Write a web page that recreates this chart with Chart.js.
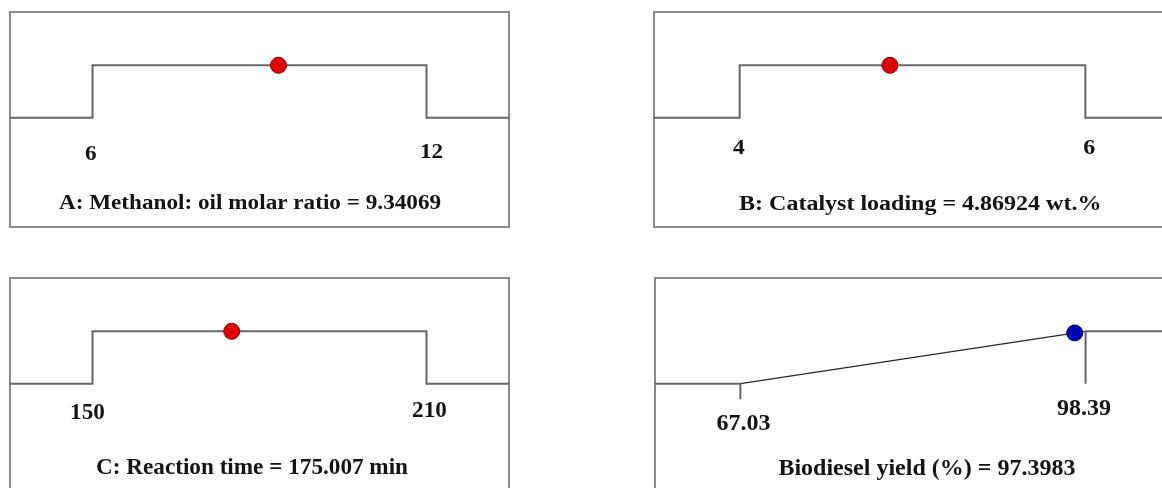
<!DOCTYPE html>
<html>
<head>
<meta charset="utf-8">
<script src="https://cdn.jsdelivr.net/npm/chart.js@4.4.1/dist/chart.umd.min.js"></script>
<style>
  html, body { margin: 0; padding: 0; background: #ffffff; overflow: hidden; }
  #stage { position: relative; width: 1162px; height: 488px; overflow: hidden; background: #ffffff; }
  #stage canvas { position: absolute; }
</style>
</head>
<body>
<div id="stage">
  <canvas id="pA"></canvas>
  <canvas id="pB"></canvas>
  <canvas id="pC"></canvas>
  <canvas id="pD"></canvas>
</div>
<script>
// Numerical optimisation ramps: factor ranges, optimum settings and predicted yield
const panelTitles = [
  'A: Methanol: oil molar ratio = 9.34069',
  'B: Catalyst loading = 4.86924 wt.%',
  'C: Reaction time = 175.007 min',
  'Biodiesel yield (%) = 97.3983'
];
const lowLimits = [6, 4, 150, 67.03];
const highLimits = [12, 6, 210, 98.39];
const lowLabels = ['6', '4', '150', '67.03'];
const highLabels = ['12', '6', '210', '98.39'];
const optimumValues = [9.34069, 4.86924, 175.007, 97.3983];
const desirabilityAtOptimum = [1, 1, 1, 0.9684];
const isResponse = [false, false, false, true];

// Placement and styling of each ramp panel (box position/size and limit-to-limit span in px)
const panelLayout = [
  { id: 'pA', left: 10,  top: 12,  width: 499, height: 215, rampSpan: 334,   textScaleX: 0.966, textScaleY: 0.84,
    lowDx: -1.6, lowY: -0.712, highDx: 5,    highY: -0.674, titleFx: 0.481, titleY: -1.647, dot: '#e00000', dotEdge: '#8b0000' },
  { id: 'pB', left: 654, top: 12,  width: 517, height: 215, rampSpan: 345.7, textScaleX: 1.0,   textScaleY: 0.84,
    lowDx: -1,   lowY: -0.592, highDx: 4,    highY: -0.592, titleFx: 0.515, titleY: -1.660, dot: '#e00000', dotEdge: '#8b0000' },
  { id: 'pC', left: 10,  top: 278, width: 499, height: 215, rampSpan: 334,   textScaleX: 0.966, textScaleY: 1.0,
    lowDx: -5,   lowY: -0.559, highDx: 3,    highY: -0.508, titleFx: 0.485, titleY: -1.609, dot: '#e00000', dotEdge: '#8b0000' },
  { id: 'pD', left: 655, top: 278, width: 516, height: 215, rampSpan: 345.2, textScaleX: 1.0,   textScaleY: 1.0,
    lowDx: 3,    lowY: -0.763, highDx: -1.7, highY: -0.477, titleFx: 0.527, titleY: -1.622, dot: '#0000b4', dotEdge: '#00005a' }
];
const Y_MAX = 2.017, Y_MIN = -2.086;
const LOW_TICK_END = -0.298;  // foot of the lower-limit tick on the response ramp
const PAD = 1;

const boxPlugin = {
  id: 'box',
  beforeDatasetsDraw(chart) {
    const a = chart.chartArea, ctx = chart.ctx;
    ctx.save();
    ctx.strokeStyle = '#8a8a8a';
    ctx.lineWidth = 2;
    ctx.strokeRect(a.left, a.top, a.right - a.left, a.bottom - a.top);
    ctx.restore();
  }
};

const textPlugin = {
  id: 'rampText',
  afterDatasetsDraw(chart, args, opts) {
    const ctx = chart.ctx, xs = chart.scales.x, ys = chart.scales.y, a = chart.chartArea;
    const put = (txt, px, py) => {
      ctx.save();
      ctx.translate(px, py);
      ctx.scale(opts.scaleX, opts.scaleY);
      ctx.fillText(txt, 0, 0);
      ctx.restore();
    };
    ctx.save();
    ctx.fillStyle = '#141414';
    ctx.font = 'bold 24px "Liberation Serif", "Times New Roman", serif';
    ctx.textAlign = 'center';
    ctx.textBaseline = 'middle';
    put(opts.lowText, xs.getPixelForValue(opts.low) + opts.lowDx, ys.getPixelForValue(opts.lowY));
    put(opts.highText, xs.getPixelForValue(opts.high) + opts.highDx, ys.getPixelForValue(opts.highY));
    put(opts.title, a.left + (a.right - a.left) * opts.titleFx, ys.getPixelForValue(opts.titleY));
    ctx.restore();
  }
};

panelLayout.forEach((L, i) => {
  const canvas = document.getElementById(L.id);
  canvas.width = L.width + 2 * PAD;
  canvas.height = L.height + 2 * PAD;
  canvas.style.left = (L.left - PAD) + 'px';
  canvas.style.top = (L.top - PAD) + 'px';

  const lo = lowLimits[i], hi = highLimits[i];
  const span = hi - lo;
  // limits sit at a fixed inset from the box edges
  const margin = (L.width / L.rampSpan - 1) / 2;
  const xMin = lo - margin * span, xMax = hi + margin * span;

  const datasets = [{
    label: 'optimum',
    data: [{ x: optimumValues[i], y: desirabilityAtOptimum[i] }],
    showLine: false,
    pointRadius: 8,
    pointHoverRadius: 8,
    pointBackgroundColor: L.dot,
    pointBorderColor: L.dotEdge,
    pointBorderWidth: 1,
    order: 0
  }];

  if (!isResponse[i]) {
    datasets.push({
      label: 'range',
      data: [{ x: xMin, y: 0 }, { x: lo, y: 0 }, { x: lo, y: 1 }, { x: hi, y: 1 }, { x: hi, y: 0 }, { x: xMax, y: 0 }],
      showLine: true, pointRadius: 0, pointHoverRadius: 0, borderColor: '#676767', borderWidth: 2, order: 1
    });
  } else {
    datasets.push({
      label: 'ramp',
      data: [{ x: xMin, y: 0 }, { x: lo, y: 0 }, { x: hi, y: 1 }, { x: xMax, y: 1 }],
      showLine: true, pointRadius: 0, pointHoverRadius: 0, borderColor: '#676767', borderWidth: 2, order: 1,
      segment: {
        borderColor: c => (c.p0DataIndex === 1 ? '#2a2a2a' : undefined),
        borderWidth: c => (c.p0DataIndex === 1 ? 1.3 : undefined)
      }
    }, {
      label: 'low tick',
      data: [{ x: lo, y: 0 }, { x: lo, y: LOW_TICK_END }],
      showLine: true, pointRadius: 0, pointHoverRadius: 0, borderColor: '#676767', borderWidth: 2, order: 1
    }, {
      label: 'high tick',
      data: [{ x: hi, y: 1 }, { x: hi, y: 0 }],
      showLine: true, pointRadius: 0, pointHoverRadius: 0, borderColor: '#676767', borderWidth: 2, order: 1
    });
  }

  new Chart(canvas, {
    type: 'scatter',
    data: { datasets },
    options: {
      responsive: false,
      animation: false,
      devicePixelRatio: 1,
      layout: { padding: PAD, autoPadding: false },
      scales: {
        x: { type: 'linear', min: xMin, max: xMax, display: false },
        y: { type: 'linear', min: Y_MIN, max: Y_MAX, display: false }
      },
      plugins: {
        legend: { display: false },
        tooltip: { enabled: false },
        rampText: {
          low: lo, high: hi,
          lowText: lowLabels[i], highText: highLabels[i], title: panelTitles[i],
          lowDx: L.lowDx, lowY: L.lowY, highDx: L.highDx, highY: L.highY,
          titleFx: L.titleFx, titleY: L.titleY, scaleX: L.textScaleX, scaleY: L.textScaleY
        }
      }
    },
    plugins: [boxPlugin, textPlugin]
  });
});
</script>
</body>
</html>
